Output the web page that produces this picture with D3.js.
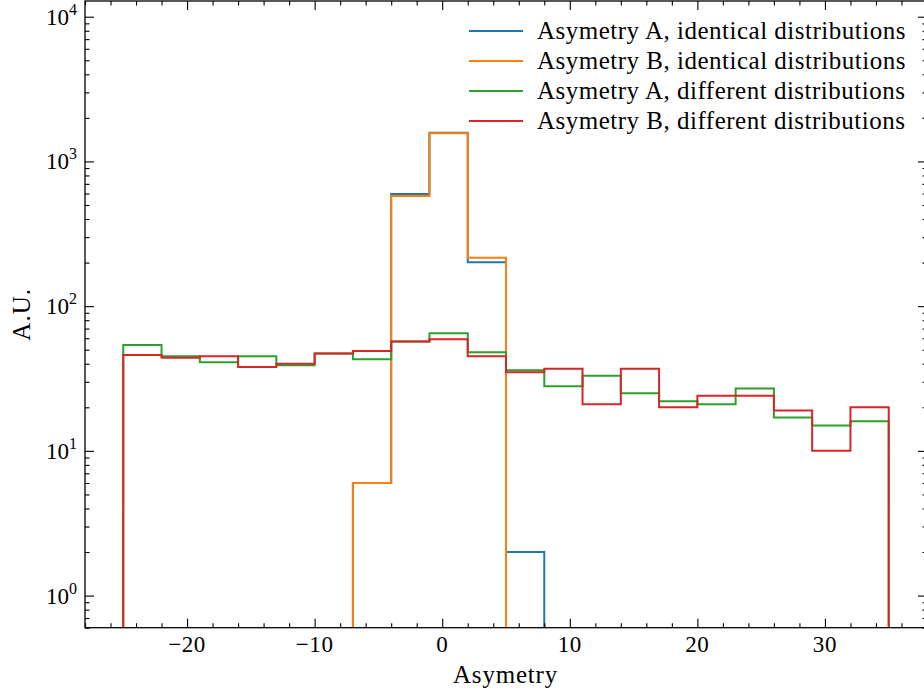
<!DOCTYPE html>
<html>
<head>
<meta charset="utf-8">
<script src="https://cdn.jsdelivr.net/npm/d3@7"></script>
<style>
  html, body { margin: 0; padding: 0; background: #fff; }
  svg { display: block; }
  text { font-family: "Liberation Serif", "Times New Roman", serif; fill: #000; }
</style>
</head>
<body>
<svg id="chart" width="924" height="698"></svg>
<script>
// ---- data ----
const binEdges = [-25, -22, -19, -16, -13, -10, -7, -4, -1, 2, 5, 8, 11, 14, 17, 20, 23, 26, 29, 32, 35];
const asymA_identical = [0, 0, 0, 0, 0, 0, 6, 596, 1580, 201, 2, 0, 0, 0, 0, 0, 0, 0, 0, 0];
const asymB_identical = [0, 0, 0, 0, 0, 0, 6, 577, 1565, 216, 0, 0, 0, 0, 0, 0, 0, 0, 0, 0];
const asymA_different = [54, 45, 41, 45, 39, 47, 43, 57, 65, 48, 36, 28, 33, 25, 22, 21, 27, 17, 15, 16];
const asymB_different = [46, 44, 45, 38, 40, 47, 49, 57, 59, 45, 35, 37, 21, 37, 20, 24, 24, 19, 10, 20];
const seriesNames = [
  "Asymetry A, identical distributions",
  "Asymetry B, identical distributions",
  "Asymetry A, different distributions",
  "Asymetry B, different distributions"
];
const seriesColors = ["#1f77b4", "#ff7f0e", "#2ca02c", "#d62728"];
const xTickValues = [-20, -10, 0, 10, 20, 30];
const yTickExponents = [0, 1, 2, 3, 4];
const xLabel = "Asymetry";
const yLabel = "A.U.";

// ---- layout ----
const L = 85, R = 927, T = 1, B = 627.7;
const svg = d3.select("#chart");

const x = d3.scaleLinear().domain([-28, 38]).range([L, R]);
const y = d3.scaleLog().domain([0.6, 12840]).range([B, T]);

// clip
svg.append("defs").append("clipPath").attr("id", "plotclip")
  .append("rect").attr("x", L).attr("y", T).attr("width", R - L).attr("height", B - T);

// histograms
const allSeries = [asymA_identical, asymB_identical, asymA_different, asymB_different];
const gPlot = svg.append("g").attr("clip-path", "url(#plotclip)");
const yOf = v => v > 0 ? y(v) : B + 60;
const line = d3.line().x(d => x(d[0])).y(d => yOf(d[1]));
allSeries.forEach((vals, si) => {
  const pts = [[binEdges[0], 0]];
  vals.forEach((v, i) => { pts.push([binEdges[i], v]); pts.push([binEdges[i + 1], v]); });
  pts.push([binEdges[binEdges.length - 1], 0]);
  gPlot.append("path").attr("d", line(pts))
    .attr("fill", "none").attr("stroke", seriesColors[si])
    .attr("stroke-width", 2).attr("stroke-linejoin", "miter");
});

// ---- axes (ticks inward on all four sides) ----
const MAJ = 9, MIN = 4.5, TW = 1.1;
const xMinor = d3.range(-28, 39, 2).filter(v => v % 10 !== 0);
const yMinor = [];
for (let e = -1; e <= 4; e++) for (let m = 2; m <= 9; m++) {
  const v = m * Math.pow(10, e);
  if (v >= 0.6 && v <= 12840) yMinor.push(v);
}
const yMajor = yTickExponents.map(e => Math.pow(10, e));

const styleAxis = g => {
  g.select(".domain").remove();
  g.selectAll(".tick line").attr("stroke", "#000").attr("stroke-width", TW);
};
svg.append("g").attr("transform", `translate(0,${B})`).call(d3.axisBottom(x).tickValues(xTickValues).tickSize(-MAJ).tickFormat("")).call(styleAxis);
svg.append("g").attr("transform", `translate(0,${T})`).call(d3.axisTop(x).tickValues(xTickValues).tickSize(-MAJ).tickFormat("")).call(styleAxis);
svg.append("g").attr("transform", `translate(${L},0)`).call(d3.axisLeft(y).tickValues(yMajor).tickSize(-MAJ).tickFormat("")).call(styleAxis);
svg.append("g").attr("transform", `translate(${R},0)`).call(d3.axisRight(y).tickValues(yMajor).tickSize(-MAJ).tickFormat("")).call(styleAxis);
svg.append("g").attr("transform", `translate(0,${B})`).call(d3.axisBottom(x).tickValues(xMinor).tickSize(-MIN).tickFormat("")).call(styleAxis);
svg.append("g").attr("transform", `translate(0,${T})`).call(d3.axisTop(x).tickValues(xMinor).tickSize(-MIN).tickFormat("")).call(styleAxis);
svg.append("g").attr("transform", `translate(${L},0)`).call(d3.axisLeft(y).tickValues(yMinor).tickSize(-MIN).tickFormat("")).call(styleAxis);
svg.append("g").attr("transform", `translate(${R},0)`).call(d3.axisRight(y).tickValues(yMinor).tickSize(-MIN).tickFormat("")).call(styleAxis);

// frame
svg.append("rect").attr("x", L).attr("y", T).attr("width", R - L).attr("height", B - T)
  .attr("fill", "none").attr("stroke", "#000").attr("stroke-width", 1.3);

// x tick labels
svg.append("g").selectAll("text").data(xTickValues).join("text")
  .attr("x", d => x(d)).attr("y", B + 24.5)
  .attr("text-anchor", "middle").attr("font-size", 23).attr("letter-spacing", 0.6)
  .text(d => d < 0 ? "\u2212" + Math.abs(d) : String(d));

// y tick labels 10^n
const yl = svg.append("g").selectAll("text").data(yTickExponents).join("text")
  .attr("x", 77).attr("y", d => y(Math.pow(10, d)) + 8)
  .attr("text-anchor", "end").attr("font-size", 23);
yl.append("tspan").text("10");
yl.append("tspan").attr("dy", -10).attr("font-size", 16).text(d => String(d));

// axis labels
svg.append("text").attr("x", (L + R) / 2 - 0.5).attr("y", 683)
  .attr("text-anchor", "middle").attr("font-size", 25).attr("letter-spacing", 0.8).text(xLabel);
svg.append("text").attr("transform", `translate(30,${(T + B) / 2}) rotate(-90)`)
  .attr("text-anchor", "middle").attr("font-size", 25).attr("letter-spacing", 1).text(yLabel);

// legend
const lg = svg.append("g");
seriesNames.forEach((name, i) => {
  const cy = 31 + i * 30;
  lg.append("line").attr("x1", 469).attr("x2", 523).attr("y1", cy).attr("y2", cy)
    .attr("stroke", seriesColors[i]).attr("stroke-width", 2);
  lg.append("text").attr("x", 537).attr("y", cy + 8).attr("font-size", 25)
    .attr("letter-spacing", 0.5).text(name);
});
</script>
</body>
</html>
